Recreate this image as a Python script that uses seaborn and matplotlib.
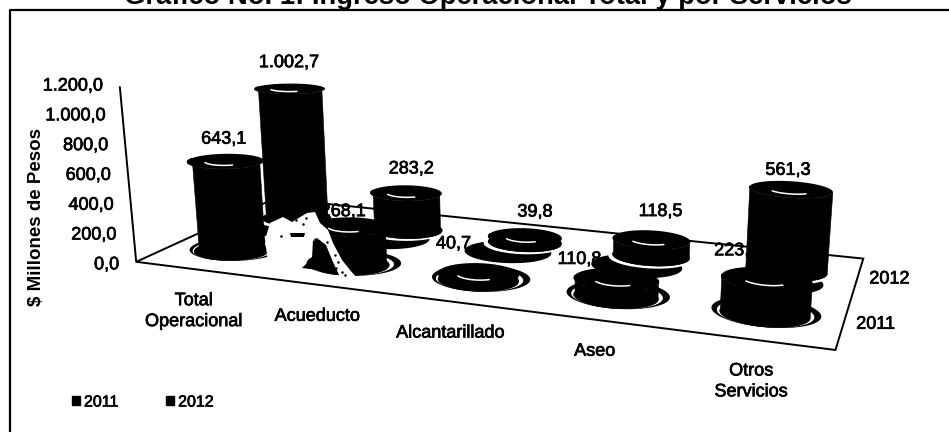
import numpy as np
import pandas as pd
import matplotlib
matplotlib.use('Agg')
import matplotlib.pyplot as plt
import matplotlib.patheffects as pe
from matplotlib.patches import Patch
import seaborn as sns

# --- Data ---
CATEGORIES = ['Total\nOperacional', 'Acueducto', 'Alcantarillado', 'Aseo', 'Otros\nServicios']
YEARS = ['2011', '2012']
VALUES_2011 = [643.1, 268.1, 40.7, 110.8, 223.5]
VALUES_2012 = [1002.7, 283.2, 39.8, 118.5, 561.3]
LABELS_2011 = ['643,1', '268,1', '40,7', '110,8', '223,5']
LABELS_2012 = ['1.002,7', '283,2', '39,8', '118,5', '561,3']
TICK_VALUES = [0, 200, 400, 600, 800, 1000, 1200]
TICK_LABELS = ['0,0', '200,0', '400,0', '600,0', '800,0', '1.000,0', '1.200,0']
TITLE = 'Gráfico No. 1: Ingreso Operacional Total y por Servicios'
YLABEL = '$ Millones de Pesos'

# --- Constants ---
WIDTH, HEIGHT = 949, 432
BAR_WIDTH = 0.58
DEPTH_RADIUS = 0.25
INK = '#000000'
LABEL_SIZE = 13

# world (category, depth, value) -> pixel pairs used to fit the camera
CAMERA_WORLD = [(0, 0, 0), (5, 0, 0), (5, 2, 0), (0, 2, 0), (0, 0, 1200),
                (4.5, 1.5, 561.3), (0.5, 1.5, 1002.7)]
CAMERA_PIXEL = [(135, 263), (835, 350), (863, 257), (276, 198), (122, 85),
                (792, 191), (287, 90)]

# pixel nudges of the value labels from the top of each bar
OFFSETS_2011 = [(-2, -22), (-6, -15), (-25, -30), (-37, -20), (-30, -28)]
OFFSETS_2012 = [(-1, -26), (5, -24), (10, -25), (9, -28), (-3, -19)]

# floor shadows: (scale, shift along category, shift along depth)
SHADOW_2011 = (1.22, 0.0, 0.05)
SHADOW_2012 = (1.15, -0.04, -0.28)
GAP_2011 = (1.08, 0.0, 0.02)
GAP_2012 = (1.06, 0.0, -0.05)

# damage of the scanned original between the first two groups
SCAN_WIPE = [(265, 240), (270, 223), (283, 217), (292, 222), (307, 213), (315, 212),
             (320, 223), (328, 230), (333, 243), (342, 260), (350, 270), (357, 278),
             (340, 277), (333, 262), (326, 245), (317, 238), (311, 240), (311, 256),
             (300, 266), (268, 262)]
SCAN_BLOTCH = [(313, 240), (330, 258), (333, 272), (302, 268), (312, 258)]
SCAN_STREAK = [(290, 233), (305, 233), (304, 237), (291, 237)]
SCAN_SPECKS = [(327, 242), (335, 255), (338, 262), (336, 268), (342, 272), (345, 275),
               (303, 224), (306, 218), (281, 236), (296, 220)]


def fit_camera(world, pixel):
    """Direct linear fit of a 3x4 projection matrix."""
    rows, rhs = [], []
    for (x, y, z), (px, py) in zip(world, pixel):
        rows.append([x, y, z, 1, 0, 0, 0, 0, -px * x, -px * y, -px * z])
        rows.append([0, 0, 0, 0, x, y, z, 1, -py * x, -py * y, -py * z])
        rhs.extend([px, py])
    sol = np.linalg.lstsq(np.array(rows, float), np.array(rhs, float), rcond=None)[0]
    return np.append(sol, 1).reshape(3, 4)


CAMERA = fit_camera(CAMERA_WORLD, CAMERA_PIXEL)


def project(x, y, z):
    pts = np.broadcast_arrays(np.asarray(x, float), np.asarray(y, float), np.asarray(z, float))
    world = np.stack([*pts, np.ones_like(pts[0])])
    cam = CAMERA @ world
    return cam[0] / cam[2], cam[1] / cam[2]


def disc(u, v, z, scale=1.0, du=0.0, dv=0.0, theta=None):
    """Projected outline of a circle lying at height z on the chart floor."""
    if theta is None:
        theta = np.linspace(0, 2 * np.pi, 73)
    xs, ys = project(u + du + scale * BAR_WIDTH / 2 * np.cos(theta),
                     v + dv + scale * DEPTH_RADIUS * np.sin(theta), z)
    return np.column_stack([xs, ys])


def draw_cylinder(ax, u, v, value, zorder, shadow, gap):
    ax.fill(*disc(u, v, 0, *shadow).T, color=INK, lw=0, zorder=zorder)
    ax.fill(*disc(u, v, 0, *gap).T, color='white', lw=0, zorder=zorder)
    # body: front half of the base joined to the front half of the lid
    front = np.linspace(np.pi, 2 * np.pi, 37)
    bottom = disc(u, v, 0, theta=front)
    top = disc(u, v, value, theta=front)
    ax.fill(*np.vstack([bottom, top[::-1]]).T, color=INK, lw=0.4, zorder=zorder)
    ax.fill(*disc(u, v, 0).T, color=INK, lw=0, zorder=zorder)
    ax.fill(*disc(u, v, value).T, color=INK, lw=0, zorder=zorder)
    # small highlight on the lid
    arc = disc(u, v, value, 0.55, theta=np.linspace(-2.4, -0.75, 20))
    ax.plot(*arc.T, color='white', lw=1.1, zorder=zorder + 0.1, solid_capstyle='round')


def heavy(width=0.5):
    return [pe.withStroke(linewidth=width, foreground=INK)]


def run():
    sns.set_theme(style='white')
    plt.rcParams['font.family'] = ['Liberation Sans', 'DejaVu Sans']

    # seaborn lays out the bars, the camera then turns them into cylinders
    data = pd.DataFrame({
        'servicio': CATEGORIES * 2,
        'anio': [YEARS[0]] * 5 + [YEARS[1]] * 5,
        'valor': VALUES_2011 + VALUES_2012,
    })
    fig_bars, ax_bars = plt.subplots()
    sns.barplot(data=data, x='servicio', y='valor', hue='anio', hue_order=YEARS, dodge=False,
                width=BAR_WIDTH, palette={y: INK for y in YEARS}, errorbar=None, ax=ax_bars)
    rows = [[(b.get_x() + b.get_width() / 2 + 0.5, b.get_height()) for b in c] for c in ax_bars.containers]
    plt.close(fig_bars)

    fig = plt.figure(figsize=(WIDTH / 100, HEIGHT / 100), dpi=100)
    ax = fig.add_axes([0, 0, 1, 1])
    ax.set_xlim(0, WIDTH)
    ax.set_ylim(HEIGHT, 0)
    ax.axis('off')

    # outer frame, open on the right and bottom
    ax.plot([10, 10, WIDTH], [HEIGHT, 9.5, 9.5], color=INK, lw=1.6, zorder=1)
    ax.text(488, 4, TITLE, ha='center', va='baseline', fontsize=19.7, fontweight='bold', color=INK, clip_on=False)

    # floor and value axis
    floor = [(0, 2), (0, 0), (5, 0), (5, 2), (0, 2)]
    ax.plot(*project(*np.array(floor).T, 0), color=INK, lw=1.4, zorder=1, solid_joinstyle='miter')
    ax.plot(*project([0, 0], [0, 0], [0, TICK_VALUES[-1]]), color=INK, lw=1.4, zorder=1)

    # back row first so the front row hides it
    looks = [(SHADOW_2011, GAP_2011), (SHADOW_2012, GAP_2012)]
    for row, (bars, (shadow, gap)) in enumerate(zip(rows, looks)):
        for u, value in bars:
            draw_cylinder(ax, u, row + 0.5, value, 4 - row, shadow, gap)

    ax.fill(*np.array(SCAN_WIPE).T, color='white', lw=0, zorder=4.5)
    ax.fill(*np.array(SCAN_BLOTCH).T, color=INK, lw=0, zorder=4.6)
    ax.fill(*np.array(SCAN_STREAK).T, color=INK, lw=0, zorder=4.6)
    ax.plot(*np.array(SCAN_SPECKS).T, 'o', color=INK, ms=1.8, mew=0, zorder=4.6)

    # value labels, some of them sit behind the back row
    behind = {'268,1', '223,5'}
    for row, labels, offsets in ((0, LABELS_2011, OFFSETS_2011), (1, LABELS_2012, OFFSETS_2012)):
        for (u, value), label, (dx, dy) in zip(rows[row], labels, offsets):
            px, py = project(u, row + 0.5, value)
            ax.text(px + dx, py + dy, label, ha='center', va='center', fontsize=LABEL_SIZE, color=INK,
                    zorder=2 if label in behind else 6, path_effects=heavy())

    x_low, y_low = project(0, 0, TICK_VALUES[0])
    x_high, y_high = project(0, 0, TICK_VALUES[-1])
    for tick, label in zip(TICK_VALUES, TICK_LABELS):
        px = np.interp(tick, [TICK_VALUES[0], TICK_VALUES[-1]], [x_low, x_high])
        py = np.interp(tick, [TICK_VALUES[0], TICK_VALUES[-1]], [y_low + 3, y_high - 1])
        ax.text(px - 17, py, label, ha='right', va='center', fontsize=LABEL_SIZE, color=INK, path_effects=heavy())

    for i, label in enumerate(CATEGORIES):
        px, py = project(i + 0.5, 0, 0)
        ax.text(px - 1, py + 23, label, ha='center', va='top', fontsize=LABEL_SIZE, color=INK,
                linespacing=1.3, path_effects=heavy())

    for row, year in enumerate(YEARS):
        px, py = project(5, row + 0.5, 0)
        ax.text(px + 32, py + 1, year, ha='center', va='center', fontsize=LABEL_SIZE, color=INK, path_effects=heavy())

    ax.text(37, 217, YLABEL, rotation=90, ha='center', va='center', fontsize=13.5, fontweight='bold', color=INK)

    handles = [Patch(color=INK, label=y) for y in YEARS]
    legend = ax.legend(handles=handles, ncol=2, frameon=False, fontsize=11.5, loc='center left',
                       bbox_to_anchor=(72 / WIDTH, 1 - 402 / HEIGHT), handlelength=0.5, handleheight=0.5,
                       handletextpad=0.25, columnspacing=3.0, borderaxespad=0, borderpad=0, labelcolor=INK)
    for text in legend.get_texts():
        text.set_path_effects(heavy())

    fig.savefig('out.png', dpi=100)


if __name__ == '__main__':
    run()
